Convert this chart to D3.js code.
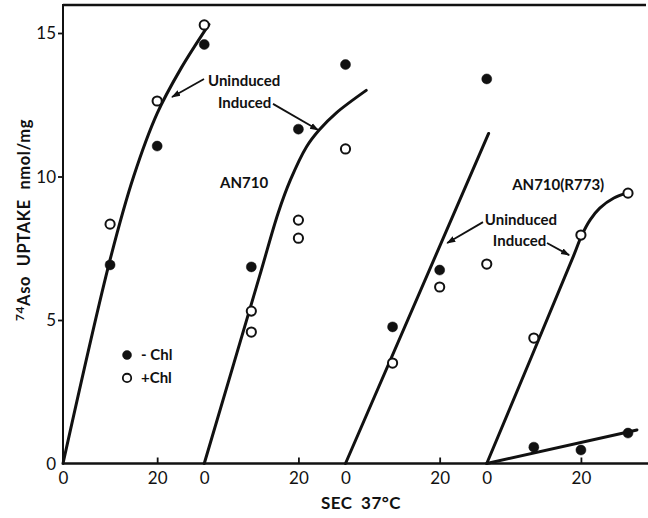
<!DOCTYPE html>
<html>
<head>
<meta charset="utf-8">
<script src="https://cdn.jsdelivr.net/npm/d3@7"></script>
<style>
  html, body { margin: 0; padding: 0; background: #fff; }
  svg { display: block; }
  text { font-family: "Lato", "DejaVu Sans", sans-serif; fill: #111; }
</style>
</head>
<body>
<svg id="chart" width="648" height="518"></svg>
<script>
// Four side-by-side time courses of 74AsO uptake (seconds at 37 °C).
// Each panel spans 30 s on a shared x-scale, starting at these offsets.
const panelOffsets = [0, 30, 60, 90];
const panelLabels = ["AN710 uninduced", "AN710 induced", "AN710(R773) uninduced", "AN710(R773) induced"];
const timesSec = [10, 20, 30];

// Uptake, nmol/mg, without chloramphenicol (filled) per panel
const minusChl = [
  [6.92, 11.06, 14.6],
  [6.85, 11.65, 13.9],
  [4.76, 6.74, 13.4],
  [0.57, 0.47, 1.06]
];
// Uptake with chloramphenicol (open); replicate readings where two were taken
const plusChl = [
  [[8.34], [12.63], [15.28]],
  [[5.31, 4.58], [8.48, 7.85], [10.96]],
  [[3.5], [6.15], [6.95]],
  [[4.37], [7.96], [9.42]]
];

// Hand-drawn fitted curves: [seconds within panel, uptake]
const fitCurves = [
  { panel: 0, pts: [[0, 0], [10, 7.1], [15, 10.0], [20, 12.2], [25, 13.75], [31, 15.3]] },
  { panel: 1, pts: [[0, 0], [11.7, 6.5], [15.7, 8.73], [18.3, 9.88], [21.7, 11.03], [24.4, 11.62], [28, 12.21], [34.4, 13.0]] },
  { panel: 2, pts: [[0, 0], [30.4, 11.5]] },
  { panel: 3, pts: [[0, 0], [18.5, 7.26], [20.2, 7.96], [22, 8.5], [24, 8.9], [27, 9.25], [29.7, 9.42]] },
  { panel: 3, pts: [[0, 0], [31.9, 1.17]] }
];

const yTicks = [0, 5, 10, 15];
const xTickLabels = ["0", "20", "0", "20", "0", "20", "0", "20"];
const xTickValues = [0, 20, 30, 50, 60, 80, 90, 110];

// Text annotations in data units [seconds on shared axis, uptake]
const annotations = [
  { text: "Uninduced", at: [30.8, 13.33] },
  { text: "Induced", at: [32.9, 12.56] },
  { text: "AN710", at: [33.35, 9.77] },
  { text: "AN710(R773)", at: [95.4, 9.7] },
  { text: "Uninduced", at: [89.6, 8.48] },
  { text: "Induced", at: [91.3, 7.75] }
];
const arrows = [
  { from: [29.95, 13.4], to: [23.15, 12.77] },
  { from: [44.6, 12.53], to: [54.2, 11.62] },
  { from: [89.2, 8.41], to: [81.6, 7.68] },
  { from: [102.8, 7.68], to: [107.5, 7.26] }
];

const svg = d3.select("#chart");
const x = d3.scaleLinear().domain([0, 120]).range([63, 628]);
const y = d3.scaleLinear().domain([0, 15]).range([463.5, 33]);

const ink = "#111";

// Frame: top rule and axes
svg.append("line").attr("x1", 63).attr("x2", 646).attr("y1", 5).attr("y2", 5)
  .attr("stroke", ink).attr("stroke-width", 2.5);
svg.append("line").attr("x1", 63).attr("x2", 63).attr("y1", 4).attr("y2", y(0))
  .attr("stroke", ink).attr("stroke-width", 2);
svg.append("line").attr("x1", 63).attr("x2", 648).attr("y1", y(0)).attr("y2", y(0))
  .attr("stroke", ink).attr("stroke-width", 2.5);

// Y axis
const yAxis = svg.append("g").attr("transform", "translate(63,0)")
  .call(d3.axisLeft(y).tickValues(yTicks).tickSize(5).tickPadding(2).tickFormat(d3.format("d")));
yAxis.select(".domain").remove();
yAxis.selectAll(".tick line").attr("stroke", ink).attr("stroke-width", 1.8)
  .attr("x2", d => d === 0 ? 0 : -5);
yAxis.selectAll(".tick text").attr("font-size", 17).attr("fill", ink).attr("dy", "0.35em");

// X axis: labels restart at 0 for each panel; tick marks only at 20 s
const xAxis = svg.append("g").attr("transform", `translate(0,${y(0)})`)
  .call(d3.axisBottom(x).tickValues(xTickValues).tickSize(0).tickPadding(8)
    .tickFormat((d, i) => xTickLabels[i]));
xAxis.select(".domain").remove();
xAxis.selectAll(".tick line").attr("stroke", ink).attr("stroke-width", 1.8)
  .attr("y2", (d, i) => xTickLabels[i] === "20" ? -6 : 0);
xAxis.selectAll(".tick text").attr("font-size", 17).attr("fill", ink);

// Axis titles
svg.append("text").attr("x", 361).attr("y", 509).attr("text-anchor", "middle")
  .attr("font-size", 17).attr("font-weight", 700).attr("letter-spacing", 0.5)
  .attr("word-spacing", 4).text("SEC 37°C");
const yTitle = svg.append("text").attr("transform", "translate(30,220) rotate(-90)")
  .attr("text-anchor", "middle").attr("font-size", 16.5).attr("font-weight", 700)
  .attr("letter-spacing", 0.6).attr("word-spacing", 5);
yTitle.append("tspan").attr("font-size", 12).attr("dy", -6).text("74");
yTitle.append("tspan").attr("dy", 6).text("Aso UPTAKE nmol/mg");

// Fitted curves
const line = d3.line().x(d => d[0]).y(d => d[1]).curve(d3.curveCatmullRom.alpha(0.5));
fitCurves.forEach(c => {
  const off = panelOffsets[c.panel];
  svg.append("path")
    .attr("d", line(c.pts.map(p => [x(off + p[0]), y(p[1])])))
    .attr("fill", "none").attr("stroke", ink).attr("stroke-width", 3)
    .attr("stroke-linecap", "round");
});

// Data points
const pts = [];
panelOffsets.forEach((off, pi) => {
  timesSec.forEach((t, ti) => {
    pts.push({ sec: off + t, v: minusChl[pi][ti], filled: true });
    plusChl[pi][ti].forEach(v => pts.push({ sec: off + t, v, filled: false }));
  });
});
svg.append("g").selectAll("circle").data(pts).join("circle")
  .attr("cx", d => x(d.sec)).attr("cy", d => y(d.v))
  .attr("r", d => d.filled ? 5 : 4.6)
  .attr("fill", d => d.filled ? ink : "#fff")
  .attr("stroke", ink).attr("stroke-width", d => d.filled ? 0.5 : 2);

// Annotations
svg.append("g").selectAll("text").data(annotations).join("text")
  .attr("x", d => x(d.at[0])).attr("y", d => y(d.at[1]))
  .attr("dy", "0.35em").attr("font-size", 15).attr("font-weight", 700)
  .text(d => d.text);

svg.append("defs").append("marker").attr("id", "head")
  .attr("viewBox", "0 0 10 10").attr("refX", 9).attr("refY", 5)
  .attr("markerWidth", 5).attr("markerHeight", 5).attr("orient", "auto")
  .append("path").attr("d", "M0,1.5 L10,5 L0,8.5 Z").attr("fill", ink);
svg.append("g").selectAll("line").data(arrows).join("line")
  .attr("x1", d => x(d.from[0])).attr("y1", d => y(d.from[1]))
  .attr("x2", d => x(d.to[0])).attr("y2", d => y(d.to[1]))
  .attr("stroke", ink).attr("stroke-width", 1.8).attr("marker-end", "url(#head)");

// Legend
const legend = svg.append("g");
[{ filled: true, label: "- Chl", v: 3.78 }, { filled: false, label: "+Chl", v: 2.98 }].forEach(d => {
  legend.append("circle").attr("cx", x(13.6)).attr("cy", y(d.v)).attr("r", d.filled ? 4.5 : 4.2)
    .attr("fill", d.filled ? ink : "#fff").attr("stroke", ink).attr("stroke-width", d.filled ? 0.5 : 1.8);
  legend.append("text").attr("x", x(13.6) + 14).attr("y", y(d.v)).attr("dy", "0.35em")
    .attr("font-size", 15).attr("font-weight", 700).text(d.label);
});
</script>
</body>
</html>
